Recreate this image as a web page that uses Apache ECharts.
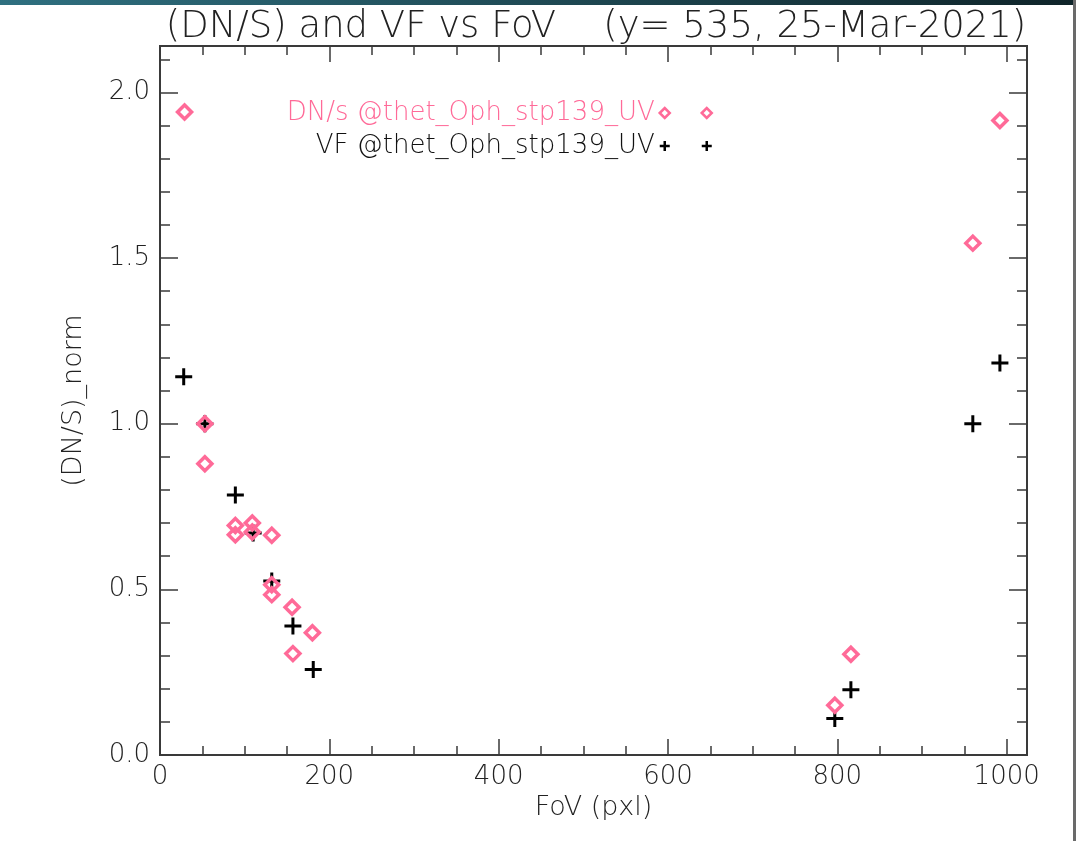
<!DOCTYPE html>
<html>
<head>
<meta charset="utf-8">
<title>(DN/S) and VF vs FoV</title>
<script src="https://cdn.jsdelivr.net/npm/echarts@6/dist/echarts.min.js"></script>
<style>
  html, body { margin: 0; padding: 0; background: #ffffff; overflow: hidden; }
  #chart { width: 1076px; height: 841px; }
</style>
</head>
<body>
<div id="chart"></div>
<script>
// Normalised count rate (DN/s) per field-of-view position
const dnsFov  = [29, 53, 53, 89, 89, 109, 109, 132, 132, 132, 156, 157, 180, 797, 816, 960, 992];
const dnsNorm = [1.941, 1.0, 0.879, 0.693, 0.665, 0.700, 0.673, 0.663, 0.514, 0.484, 0.446, 0.306, 0.369, 0.150, 0.304, 1.545, 1.915];

// Normalised vignetting factor per field-of-view position
const vfFov  = [28, 53, 89, 110, 132, 157, 181, 797, 816, 960, 992];
const vfNorm = [1.142, 1.0, 0.785, 0.670, 0.525, 0.389, 0.258, 0.110, 0.197, 1.0, 1.183];

// Axis ranges and tick marks
const xRange = [0, 1024];
const yRange = [0, 2.14];
const xMajorTicks = [0, 200, 400, 600, 800, 1000];
const xMinorTicks = [50, 100, 150, 250, 300, 350, 450, 500, 550, 650, 700, 750, 850, 900, 950];
const yMajorTicks = [0, 0.5, 1.0, 1.5, 2.0];
const yMinorTicks = [0.1, 0.2, 0.3, 0.4, 0.6, 0.7, 0.8, 0.9, 1.1, 1.2, 1.3, 1.4, 1.6, 1.7, 1.8, 1.9, 2.1];

const titleText = '(DN/S) and VF vs FoV    (y= 535, 25-Mar-2021)';
const xName = 'FoV (pxl)';
const yName = '(DN/S)_norm';
const dnsLabel = 'DN/s @thet_Oph_stp139_UV';
const vfLabel = 'VF @thet_Oph_stp139_UV';

const PINK = '#ff6a98';
const INK = '#222222';
const FONT = "'DejaVu Sans', 'Liberation Sans', sans-serif";
const WEIGHT = 200;

const plusPath = 'path://M0,5L10,5M5,0L5,10';
const twoDiamonds = 'path://M0,5L5,0L10,5L5,10Z M42,5L47,0L52,5L47,10Z';
const twoPluses = 'path://M0,5L10,5M5,0L5,10 M42,5L52,5M47,0L47,10';

function zip(xs, ys) { return xs.map((x, i) => [x, ys[i]]); }

const axisLine = { show: true, onZero: false, lineStyle: { color: '#3a3a3a', width: 2 } };

function xAxisDef(pos, ticks, len, labels) {
  return {
    type: 'value', position: pos, min: xRange[0], max: xRange[1],
    name: labels ? xName : '', nameLocation: 'middle', nameGap: 33,
    nameTextStyle: { fontFamily: FONT, fontSize: 27, fontWeight: WEIGHT, color: INK },
    axisLine: axisLine,
    axisTick: { show: true, inside: true, length: len, customValues: ticks, lineStyle: { color: '#3a3a3a', width: 1.5 } },
    axisLabel: labels ? { show: true, customValues: ticks, margin: 9, fontFamily: FONT, fontSize: 26,
      fontWeight: WEIGHT, color: INK, formatter: v => String(v) } : { show: false },
    splitLine: { show: false }
  };
}
function yAxisDef(pos, ticks, len, labels) {
  return {
    type: 'value', position: pos, min: yRange[0], max: yRange[1],
    name: labels ? yName : '', nameLocation: 'middle', nameGap: 73,
    nameTextStyle: { fontFamily: FONT, fontSize: 27, fontWeight: WEIGHT, color: INK },
    axisLine: axisLine,
    axisTick: { show: true, inside: true, length: len, customValues: ticks, lineStyle: { color: '#3a3a3a', width: 1.5 } },
    axisLabel: labels ? { show: true, customValues: ticks, margin: 10, fontFamily: FONT, fontSize: 26,
      fontWeight: WEIGHT, color: INK, formatter: v => v.toFixed(1) } : { show: false },
    splitLine: { show: false }
  };
}

const chart = echarts.init(document.getElementById('chart'), null, { renderer: 'canvas' });

chart.setOption({
  backgroundColor: '#ffffff',
  animation: false,
  title: {
    text: titleText, left: 591, top: 4, textAlign: 'center',
    textStyle: { fontFamily: FONT, fontSize: 37, fontWeight: WEIGHT, color: INK }
  },
  grid: { left: 160, top: 46, right: 49, bottom: 86, containLabel: false },
  xAxis: [
    xAxisDef('bottom', xMajorTicks, 16, true),
    xAxisDef('bottom', xMinorTicks, 9, false),
    xAxisDef('top', xMajorTicks, 16, false),
    xAxisDef('top', xMinorTicks, 9, false)
  ],
  yAxis: [
    yAxisDef('left', yMajorTicks, 18, true),
    yAxisDef('left', yMinorTicks, 10, false),
    yAxisDef('right', yMajorTicks, 18, false),
    yAxisDef('right', yMinorTicks, 10, false)
  ],
  legend: [
    {
      right: 358, top: 95, orient: 'vertical', align: 'right',
      itemWidth: 52, itemHeight: 10, itemGap: 10,
      textStyle: { fontFamily: FONT, fontSize: 26, fontWeight: WEIGHT, color: PINK },
      data: [{ name: dnsLabel, icon: twoDiamonds, itemStyle: { color: 'transparent', borderColor: PINK, borderWidth: 2.5 } }],
      selectedMode: false
    },
    {
      right: 358, top: 128, orient: 'vertical', align: 'right',
      itemWidth: 52, itemHeight: 11, itemGap: 10,
      textStyle: { fontFamily: FONT, fontSize: 26, fontWeight: WEIGHT, color: '#111111' },
      data: [{ name: vfLabel, icon: twoPluses, itemStyle: { color: 'transparent', borderColor: '#000', borderWidth: 2.5 } }],
      selectedMode: false
    }
  ],
  series: [
    {
      name: vfLabel, type: 'scatter', xAxisIndex: 0, yAxisIndex: 0,
      symbol: plusPath, symbolSize: 17,
      itemStyle: { color: 'transparent', borderColor: '#000000', borderWidth: 3, opacity: 1 },
      data: zip(vfFov, vfNorm), z: 2
    },
    {
      name: dnsLabel, type: 'scatter', xAxisIndex: 0, yAxisIndex: 0,
      symbol: 'diamond', symbolSize: 14,
      itemStyle: { color: 'transparent', borderColor: PINK, borderWidth: 3.5, opacity: 1 },
      data: zip(dnsFov, dnsNorm), z: 3
    }
  ],
  graphic: [
    {
      // window header strip
      type: 'rect', silent: true,
      shape: { x: 0, y: 0, width: 1076, height: 5 },
      style: { fill: new echarts.graphic.LinearGradient(0, 0, 1, 0, [
        { offset: 0, color: '#2f7080' }, { offset: 1, color: '#0f2429' }
      ]) }
    },
    {
      // right window border
      type: 'rect', silent: true,
      shape: { x: 1073, y: 0, width: 3, height: 841 },
      style: { fill: '#6a6a6a' }
    }
  ]
});
</script>
</body>
</html>
